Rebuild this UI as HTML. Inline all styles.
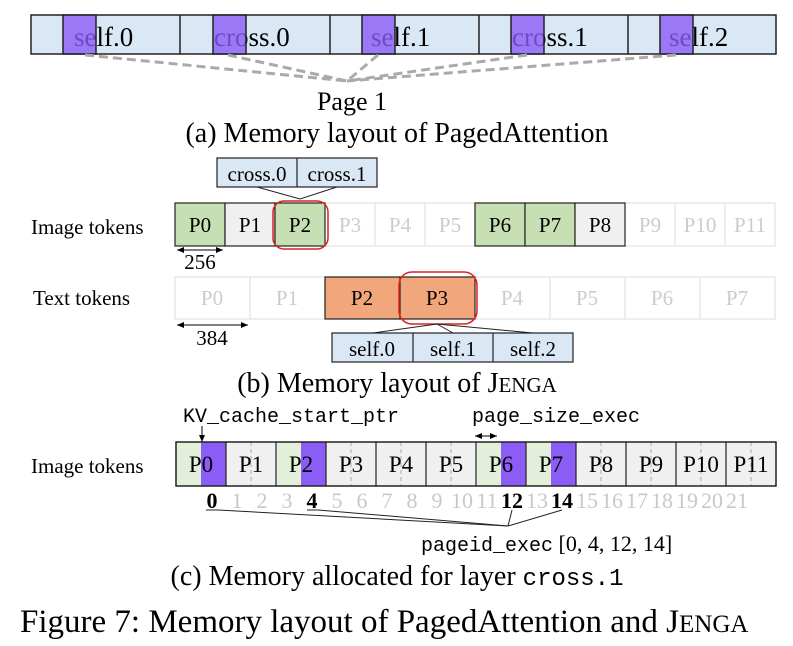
<!DOCTYPE html>
<html><head><meta charset="utf-8"><style>
html,body{margin:0;padding:0;background:#fff;}
svg{display:block;}
text{font-family:"Liberation Serif",serif;}
.m{font-family:"Liberation Mono",monospace;}
</style></head><body>
<svg width="793" height="646" viewBox="0 0 793 646" xmlns="http://www.w3.org/2000/svg">
<defs>
<marker id="ah" markerWidth="8" markerHeight="8" refX="7" refY="4" orient="auto" markerUnits="userSpaceOnUse"><path d="M0,1 L7,4 L0,7 z" fill="#000"/></marker>
<marker id="ahs" markerWidth="8" markerHeight="8" refX="1" refY="4" orient="auto" markerUnits="userSpaceOnUse"><path d="M8,1 L1,4 L8,7 z" fill="#000"/></marker>
</defs>
<!-- (a) -->
<rect x="31" y="15" width="745" height="39" fill="#dae8f5" stroke="#222" stroke-width="1.5"/>
<g stroke="#222" stroke-width="1.5"><line x1="180" y1="15" x2="180" y2="54"/><line x1="330" y1="15" x2="330" y2="54"/><line x1="479" y1="15" x2="479" y2="54"/><line x1="628" y1="15" x2="628" y2="54"/></g>
<g font-size="27">
<text x="74" y="46">self.0</text>
<text x="214" y="46">cross.0</text>
<text x="371" y="46">self.1</text>
<text x="512" y="46">cross.1</text>
<text x="669" y="46">self.2</text>
</g>
<g fill="#8b5cf6" fill-opacity="0.8" stroke="#222" stroke-width="1.5">
<rect x="63" y="15" width="33" height="39"/>
<rect x="213" y="15" width="33" height="39"/>
<rect x="362" y="15" width="33" height="39"/>
<rect x="511" y="15" width="33" height="39"/>
<rect x="660" y="15" width="33" height="39"/>
</g>
<g stroke="#aaa" stroke-width="3" stroke-dasharray="9,5" fill="none">
<line x1="85" y1="55" x2="347" y2="81"/>
<line x1="228" y1="55" x2="347" y2="81"/>
<line x1="378" y1="55" x2="347" y2="81"/>
<line x1="527" y1="55" x2="347" y2="81"/>
<line x1="676" y1="55" x2="347" y2="81"/>
</g>
<text x="352" y="110" font-size="26" text-anchor="middle">Page 1</text>
<text x="397" y="142" font-size="28" text-anchor="middle">(a) Memory layout of PagedAttention</text>
<!-- (b) -->
<rect x="217" y="158" width="160" height="29" fill="#dae8f5" stroke="#222" stroke-width="1.2"/>
<line x1="297" y1="158" x2="297" y2="187" stroke="#222" stroke-width="1.2"/>
<text x="257" y="181" font-size="21" text-anchor="middle">cross.0</text>
<text x="337" y="181" font-size="21" text-anchor="middle">cross.1</text>
<polyline points="257,187 300,199 337,187" fill="none" stroke="#222" stroke-width="1"/>
<text x="31" y="234" font-size="21">Image tokens</text>
<text x="33" y="305" font-size="21">Text tokens</text>
<g font-size="21" text-anchor="middle">
<g fill="none" stroke="#e2e2e2" stroke-width="1.2">
<rect x="325" y="203" width="150" height="43"/><line x1="375" y1="203" x2="375" y2="246"/><line x1="425" y1="203" x2="425" y2="246"/>
<rect x="625" y="203" width="150" height="43"/><line x1="675" y1="203" x2="675" y2="246"/><line x1="725" y1="203" x2="725" y2="246"/>
</g>
<g fill="#ccc"><text x="350" y="232">P3</text><text x="400" y="232">P4</text><text x="450" y="232">P5</text><text x="650" y="232">P9</text><text x="700" y="232">P10</text><text x="750" y="232">P11</text></g>
<g stroke="#222" stroke-width="1.2">
<rect x="175" y="203" width="50" height="43" fill="#c6e0b4"/>
<rect x="225" y="203" width="50" height="43" fill="#f0f0f0"/>
<rect x="275" y="203" width="50" height="43" fill="#c6e0b4"/>
<rect x="475" y="203" width="50" height="43" fill="#c6e0b4"/>
<rect x="525" y="203" width="50" height="43" fill="#c6e0b4"/>
<rect x="575" y="203" width="50" height="43" fill="#f0f0f0"/>
</g>
<text x="200" y="232">P0</text><text x="250" y="232">P1</text><text x="300" y="232">P2</text><text x="500" y="232">P6</text><text x="550" y="232">P7</text><text x="600" y="232">P8</text>
<rect x="273" y="201" width="55" height="48" rx="11" fill="none" stroke="#e02020" stroke-width="1.5"/>
<g fill="none" stroke="#e2e2e2" stroke-width="1.2">
<rect x="175" y="277" width="150" height="42"/><line x1="250" y1="277" x2="250" y2="319"/>
<rect x="475" y="277" width="300" height="42"/><line x1="550" y1="277" x2="550" y2="319"/><line x1="625" y1="277" x2="625" y2="319"/><line x1="700" y1="277" x2="700" y2="319"/>
</g>
<g fill="#ccc"><text x="212" y="305">P0</text><text x="287" y="305">P1</text><text x="512" y="305">P4</text><text x="587" y="305">P5</text><text x="662" y="305">P6</text><text x="737" y="305">P7</text></g>
<g stroke="#222" stroke-width="1.2" fill="#f2a67c">
<rect x="325" y="277" width="75" height="42"/><rect x="400" y="277" width="75" height="42"/>
</g>
<text x="362" y="305">P2</text><text x="437" y="305">P3</text>
<rect x="399" y="272" width="78" height="52" rx="13" fill="none" stroke="#e02020" stroke-width="1.5"/>
<line x1="177" y1="250" x2="223" y2="250" stroke="#000" stroke-width="1" marker-end="url(#ah)" marker-start="url(#ahs)"/>
<text x="200" y="269">256</text>
<line x1="177" y1="325" x2="248" y2="325" stroke="#000" stroke-width="1" marker-end="url(#ah)" marker-start="url(#ahs)"/>
<text x="212" y="345">384</text>
</g>
<g stroke="#222" stroke-width="1" fill="none">
<line x1="437" y1="324" x2="373" y2="333"/><line x1="437" y1="324" x2="453" y2="333"/><line x1="437" y1="324" x2="533" y2="333"/>
</g>
<rect x="332" y="333" width="241" height="29" fill="#dae8f5" stroke="#222" stroke-width="1.2"/>
<line x1="413" y1="333" x2="413" y2="362" stroke="#222" stroke-width="1.2"/>
<line x1="493" y1="333" x2="493" y2="362" stroke="#222" stroke-width="1.2"/>
<g font-size="21" text-anchor="middle"><text x="372" y="356">self.0</text><text x="453" y="356">self.1</text><text x="533" y="356">self.2</text></g>
<text x="397" y="392" font-size="28" text-anchor="middle">(b) Memory layout of J<tspan font-size="21">ENGA</tspan></text>
<!-- (c) -->
<text x="183" y="422" class="m" font-size="20">KV_cache_start_ptr</text>
<line x1="202" y1="426" x2="202" y2="442" stroke="#000" stroke-width="1" marker-end="url(#ah)"/>
<text x="472" y="422" class="m" font-size="20">page_size_exec</text>
<line x1="475" y1="436" x2="497" y2="436" stroke="#000" stroke-width="1" marker-end="url(#ah)" marker-start="url(#ahs)"/>
<text x="31" y="473" font-size="21">Image tokens</text>
<rect x="176" y="442" width="600" height="44" fill="#f0f0f0"/>
<g fill="#e2efd9"><rect x="176" y="442" width="25" height="44"/><rect x="276" y="442" width="25" height="44"/><rect x="476" y="442" width="25" height="44"/><rect x="526" y="442" width="25" height="44"/></g>
<g fill="#8b5cf6"><rect x="201" y="442" width="25" height="44"/><rect x="301" y="442" width="25" height="44"/><rect x="501" y="442" width="25" height="44"/><rect x="551" y="442" width="25" height="44"/></g>
<g stroke="#aaa" stroke-width="1" stroke-dasharray="4,3">
<line x1="251" y1="442" x2="251" y2="486"/><line x1="351" y1="442" x2="351" y2="486"/><line x1="401" y1="442" x2="401" y2="486"/><line x1="451" y1="442" x2="451" y2="486"/><line x1="601" y1="442" x2="601" y2="486"/><line x1="651" y1="442" x2="651" y2="486"/><line x1="701" y1="442" x2="701" y2="486"/><line x1="751" y1="442" x2="751" y2="486"/>
</g>
<rect x="176" y="442" width="600" height="44" fill="none" stroke="#222" stroke-width="1.5"/>
<g stroke="#222" stroke-width="1.2">
<line x1="226" y1="442" x2="226" y2="486"/><line x1="276" y1="442" x2="276" y2="486"/><line x1="326" y1="442" x2="326" y2="486"/><line x1="376" y1="442" x2="376" y2="486"/><line x1="426" y1="442" x2="426" y2="486"/><line x1="476" y1="442" x2="476" y2="486"/><line x1="526" y1="442" x2="526" y2="486"/><line x1="576" y1="442" x2="576" y2="486"/><line x1="626" y1="442" x2="626" y2="486"/><line x1="676" y1="442" x2="676" y2="486"/><line x1="726" y1="442" x2="726" y2="486"/>
</g>
<g font-size="23" text-anchor="middle">
<text x="201" y="472">P0</text><text x="251" y="472">P1</text><text x="301" y="472">P2</text><text x="351" y="472">P3</text><text x="401" y="472">P4</text><text x="451" y="472">P5</text><text x="501" y="472">P6</text><text x="551" y="472">P7</text><text x="601" y="472">P8</text><text x="651" y="472">P9</text><text x="701" y="472">P10</text><text x="751" y="472">P11</text>
</g>
<g font-size="22" text-anchor="middle" fill="#c8c8c8">
<text x="237" y="508">1</text><text x="262" y="508">2</text><text x="287" y="508">3</text><text x="337" y="508">5</text><text x="362" y="508">6</text><text x="387" y="508">7</text><text x="412" y="508">8</text><text x="437" y="508">9</text><text x="462" y="508">10</text><text x="487" y="508">11</text><text x="537" y="508">13</text><text x="587" y="508">15</text><text x="612" y="508">16</text><text x="637" y="508">17</text><text x="662" y="508">18</text><text x="687" y="508">19</text><text x="712" y="508">20</text><text x="737" y="508">21</text>
</g>
<g font-size="22" text-anchor="middle" font-weight="bold">
<text x="212" y="508">0</text><text x="312" y="508">4</text><text x="512" y="508">12</text><text x="562" y="508">14</text>
</g>
<g stroke="#222" stroke-width="1" fill="none">
<polyline points="206,510 218,510 508,526"/>
<polyline points="307,510 318,510 508,526"/>
<line x1="512" y1="510" x2="508" y2="526"/>
<line x1="562" y1="510" x2="508" y2="526"/>
</g>
<text x="421" y="551" font-size="22"><tspan font-family="Liberation Mono, monospace" font-size="20">pageid_exec</tspan> [0, 4, 12, 14]</text>
<text x="397" y="585" font-size="28" text-anchor="middle">(c) Memory allocated for layer <tspan font-family="Liberation Mono, monospace" font-size="24">cross.1</tspan></text>
<text x="20" y="632" font-size="33">Figure 7: Memory layout of PagedAttention and J<tspan font-size="25">ENGA</tspan></text>
</svg>
</body></html>
